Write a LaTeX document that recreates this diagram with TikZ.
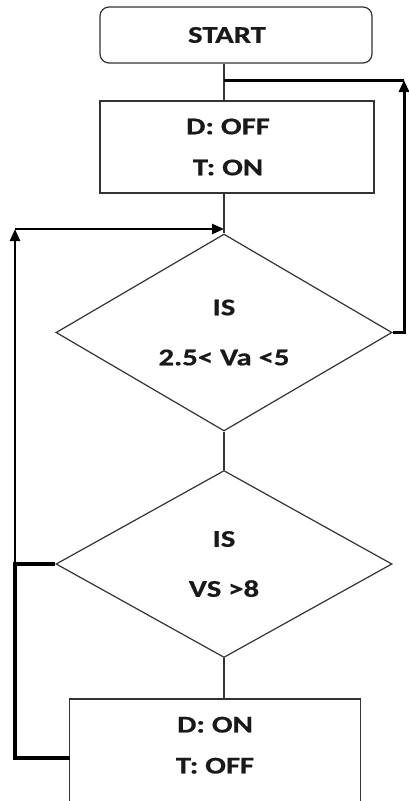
\documentclass[tikz,border=0pt]{standalone}
\usepackage{fontspec}
\newfontfamily\flowfont[FakeStretch=1.28,FakeBold=0.6]{Carlito}
\usetikzlibrary{shapes.geometric,arrows.meta}
\newcommand{\lefttxt}[1]{\makebox[0pt]{\hspace*{-18pt}#1}}
\begin{document}
\begin{tikzpicture}[x=1pt,y=-1pt,
  every node/.style={font=\flowfont\bfseries\fontsize{24}{41}\selectfont, text=black!90, align=center, inner sep=0pt},
  thin line/.style={line width=1.2pt, draw=black!80},
  boxst/.style={rectangle, draw=black!80, line width=1.2pt},
  decision/.style={diamond, draw=black!80, line width=1.2pt, minimum width=336pt, minimum height=187pt, font=\flowfont\bfseries\fontsize{24}{50}\selectfont},
  loopline/.style={line width=3pt, line join=miter},
  tip/.style={-{Triangle[length=12pt,width=10pt]}}]
\useasboundingbox (0,0) rectangle (409,801);
\clip (0,0) rectangle (409,801);

\node[boxst, rounded corners=9pt, minimum width=272pt, minimum height=56pt] (start) at (236,35) {\lefttxt{START}};
\node[boxst, minimum width=274pt, minimum height=92pt] (box1) at (237,147) {\lefttxt{D: OFF}\\\lefttxt{T: ON}};
\node[decision] (d1) at (224,332.5) {IS\\2.5< Va <5};
\node[decision] (d2) at (224,564) {IS\\VS >8};
\node[minimum width=290pt, minimum height=92pt, anchor=north] (box2) at (215,699) {D: ON\\T: OFF};
\draw[boxst] ([yshift=-30pt]box2.south west) -- (box2.north west) -- (box2.north east) -- ([yshift=-30pt]box2.south east);

\coordinate (rtop) at (404,80);
\coordinate (rbot) at (404,332.5);
\coordinate (ltop) at (15,229);
\coordinate (lmid) at (15,564);
\coordinate (lbot) at (15,758);
\coordinate (b2left) at (box2.north west |- lbot);
\coordinate (j1) at (d1.north |- ltop);
\coordinate (j0) at (d1.north |- rtop);

% main spine
\draw[thin line] (start.south -| d1.north) -- (box1.north -| d1.north);
\draw[thin line] (box1.south -| d1.north) -- (d1.north);
\draw[thin line] (d1.south) -- (d2.north);
\draw[thin line] (d2.south) -- (box2.north -| d2.south);

% right loop
\draw[loopline, tip] (d1.east) -- (rbot) -- (rtop);
\draw[loopline] (rtop) -- (j0);

% left loop
\draw[line width=4.5pt, line join=miter] (b2left) -- (lbot) -- (lmid) -- (d2.west);
\draw[line width=2.5pt, tip] (lmid) -- (ltop);
\draw[line width=2.5pt, tip] (ltop) -- (j1);
\end{tikzpicture}
\end{document}
